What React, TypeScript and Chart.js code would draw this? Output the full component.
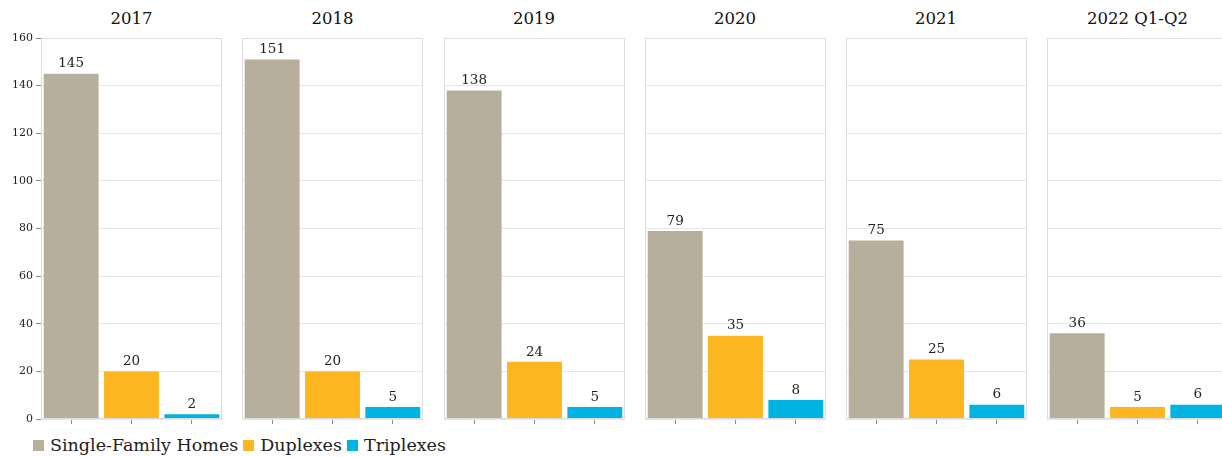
import React, { useEffect, useRef } from "react";
import { Chart, registerables } from "chart.js";

Chart.register(...registerables);

const periods = ["2017", "2018", "2019", "2020", "2021", "2022 Q1-Q2"];
const seriesNames = ["Single-Family Homes", "Duplexes", "Triplexes"];
const singleFamily = [145, 151, 138, 79, 75, 36];
const duplexes = [20, 20, 24, 35, 25, 5];
const triplexes = [2, 5, 5, 8, 6, 6];
const seriesColors = ["#b7af9b", "#fdb620", "#00b3e3"];
const yTicksMax = 160;
const yStep = 20;

const FONT = "'DejaVu Serif', Georgia, serif";
const PLOT_TOP = 38;
const PLOT_BOTTOM = 419;
const PANEL_W = 181;
const PANEL_LEFTS = [41, 242, 443.5, 644.5, 845.5, 1047];
const Y_AXIS_W = 41;
const CANVAS_TOP = 28;
const CANVAS_H = 402;

const frameAndLabels = {
  id: "frameAndLabels",
  afterDatasetsDraw(chart: any) {
    const { ctx, chartArea } = chart;
    ctx.save();
    ctx.strokeStyle = "#dddddd";
    ctx.lineWidth = 1;
    ctx.strokeRect(
      Math.round(chartArea.left) + 0.5,
      Math.round(chartArea.top) + 0.5,
      Math.round(chartArea.right - chartArea.left) - 1,
      Math.round(chartArea.bottom - chartArea.top) - 1
    );
    const meta = chart.getDatasetMeta(0);
    const data = chart.data.datasets[0].data;
    ctx.fillStyle = "#222";
    ctx.font = "13.5px " + FONT;
    ctx.textAlign = "center";
    ctx.textBaseline = "bottom";
    meta.data.forEach((el: any, i: number) => {
      ctx.fillText(String(data[i]), el.x, el.y - 3);
    });
    ctx.restore();
  },
};

function Panel({ index }: { index: number }) {
  const ref = useRef<HTMLCanvasElement>(null);
  const first = index === 0;
  useEffect(() => {
    if (!ref.current) return;
    const chart = new Chart(ref.current, {
      type: "bar",
      data: {
        labels: seriesNames,
        datasets: [
          {
            data: [singleFamily[index], duplexes[index], triplexes[index]],
            backgroundColor: seriesColors,
            barPercentage: 0.91,
            categoryPercentage: 1,
          },
        ],
      },
      options: {
        animation: false,
        responsive: false,
        maintainAspectRatio: false,
        layout: { padding: { top: PLOT_TOP - CANVAS_TOP, right: 1, left: 0, bottom: 0 } },
        plugins: { legend: { display: false }, tooltip: { enabled: false } },
        scales: {
          x: {
            type: "category",
            offset: true,
            border: { display: false },
            grid: {
              display: true,
              drawOnChartArea: false,
              drawTicks: true,
              tickLength: 5,
              offset: false,
              tickColor: "#888",
            },
            ticks: { display: false },
            afterFit: (s: any) => {
              s.height = CANVAS_TOP + CANVAS_H - PLOT_BOTTOM;
            },
          },
          y: {
            min: 0,
            max: yTicksMax,
            border: { display: false },
            grid: {
              color: "#e6e6e6",
              drawTicks: first,
              tickLength: 5,
              tickColor: "#888",
            },
            ticks: {
              display: first,
              stepSize: yStep,
              color: "#222",
              padding: 3,
              font: { family: FONT, size: 11 },
            },
            afterFit: (s: any) => {
              s.width = first ? Y_AXIS_W : 0;
            },
          },
        },
      },
      plugins: [frameAndLabels],
    });
    return () => chart.destroy();
  }, [index]);
  const left = PANEL_LEFTS[index] - (first ? Y_AXIS_W : 0);
  const width = PANEL_W + 1 + (first ? Y_AXIS_W : 0);
  return (
    <>
      <div
        style={{
          position: "absolute",
          left: PANEL_LEFTS[index],
          width: PANEL_W,
          top: 9,
          textAlign: "center",
          fontFamily: FONT,
          fontSize: 16.5,
          color: "#111",
          lineHeight: "20px",
        }}
      >
        {periods[index]}
      </div>
      <canvas
        ref={ref}
        width={width}
        height={CANVAS_H}
        style={{ position: "absolute", left, top: CANVAS_TOP, width, height: CANVAS_H }}
      />
    </>
  );
}

export default function App() {
  return (
    <div
      style={{
        position: "fixed",
        left: 0,
        top: 0,
        width: 1222,
        height: 457,
        overflow: "hidden",
        background: "#fff",
      }}
    >
      {periods.map((_, i) => (
        <Panel key={i} index={i} />
      ))}
      <div
        style={{
          position: "absolute",
          left: 33,
          top: 435,
          display: "flex",
          alignItems: "center",
          fontFamily: FONT,
          fontSize: 17.5,
          color: "#222",
          lineHeight: "20px",
        }}
      >
        {seriesNames.map((name, i) => (
          <div key={name} style={{ display: "flex", alignItems: "center", marginRight: 5 }}>
            <span
              style={{
                display: "inline-block",
                width: 11,
                height: 11,
                background: seriesColors[i],
                marginRight: 6,
              }}
            />
            <span>{name}</span>
          </div>
        ))}
      </div>
    </div>
  );
}
